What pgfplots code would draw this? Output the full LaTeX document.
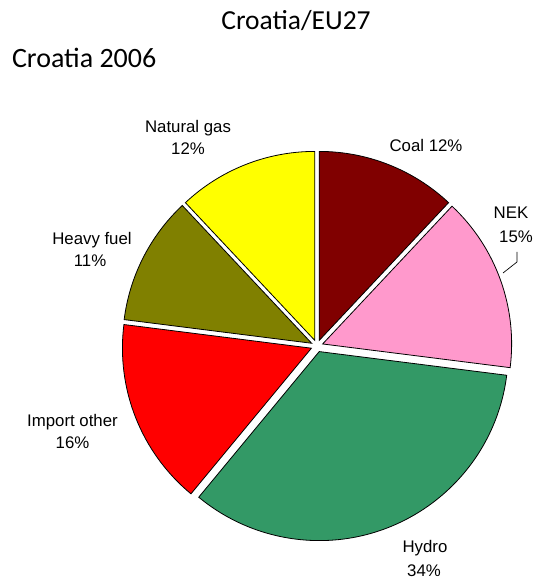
\documentclass[border=0pt]{standalone}
\usepackage{pgfplots}
\pgfplotsset{compat=1.18}
\usepackage{fontspec}
\setmainfont{Liberation Sans}
\newfontfamily\calibri{Carlito}
\definecolor{coalc}{HTML}{800000}
\definecolor{nekc}{HTML}{FF99CC}
\definecolor{hydroc}{HTML}{339966}
\definecolor{importc}{HTML}{FF0000}
\definecolor{heavyc}{HTML}{808000}
\definecolor{gasc}{HTML}{FFFF00}
\newcommand\lab{\fontsize{16.8}{19}\selectfont}
\begin{document}
\begin{tikzpicture}
\begin{axis}[x=1pt,y=1pt,xmin=0,xmax=537,ymin=0,ymax=581,hide axis,clip=false,
  every node/.append style={inner sep=0pt}]
\path (axis cs:0,0) rectangle (axis cs:537,581);
\xdef\cum{90}
% shares (%) clockwise from 12 o'clock: Coal, NEK, Hydro, Import other, Heavy fuel, Natural gas
\foreach \v/\col in {12/coalc,15/nekc,34/hydroc,16/importc,11/heavyc,12/gasc}{
  \pgfmathsetmacro\a{\cum}
  \pgfmathsetmacro\b{\cum-3.6*\v}
  \pgfmathsetmacro\m{(\a+\b)/2}
  \edef\temp{\noexpand\filldraw[fill=\col,draw=black,line width=0.8pt]
    ([shift={(\m:6pt)}]axis cs:317,235) -- ++(\a:189pt)
    arc[start angle=\a,end angle=\b,radius=189pt] -- cycle;}
  \temp
  \xdef\cum{\b}
}
\draw[line width=0.7pt] (axis cs:517,329) -- (axis cs:517,319) -- (axis cs:503,308);
\node[anchor=base,font=\lab] at (axis cs:426,429) {Coal 12\%};
\node[anchor=base,font=\lab] at (axis cs:511,362) {NEK};
\node[anchor=base,font=\lab] at (axis cs:516,338) {15\%};
\node[anchor=base,font=\lab] at (axis cs:425,28) {Hydro};
\node[anchor=base,font=\lab] at (axis cs:424,5) {34\%};
\node[anchor=base,font=\lab] at (axis cs:72.5,154) {Import other};
\node[anchor=base,font=\lab] at (axis cs:72.5,132) {16\%};
\node[anchor=base,font=\lab] at (axis cs:92,336) {Heavy fuel};
\node[anchor=base,font=\lab] at (axis cs:90,314) {11\%};
\node[anchor=base,font=\lab] at (axis cs:188,448) {Natural gas};
\node[anchor=base,font=\lab] at (axis cs:188,426) {12\%};
\node[anchor=base,font=\calibri\fontsize{27.5}{32}\selectfont] at (axis cs:296,551) {Croatia/EU27};
\node[anchor=base west,font=\calibri\fontsize{28}{32}\selectfont] at (axis cs:8.5,513) {Croatia 2006};
\end{axis}
\end{tikzpicture}
\end{document}
